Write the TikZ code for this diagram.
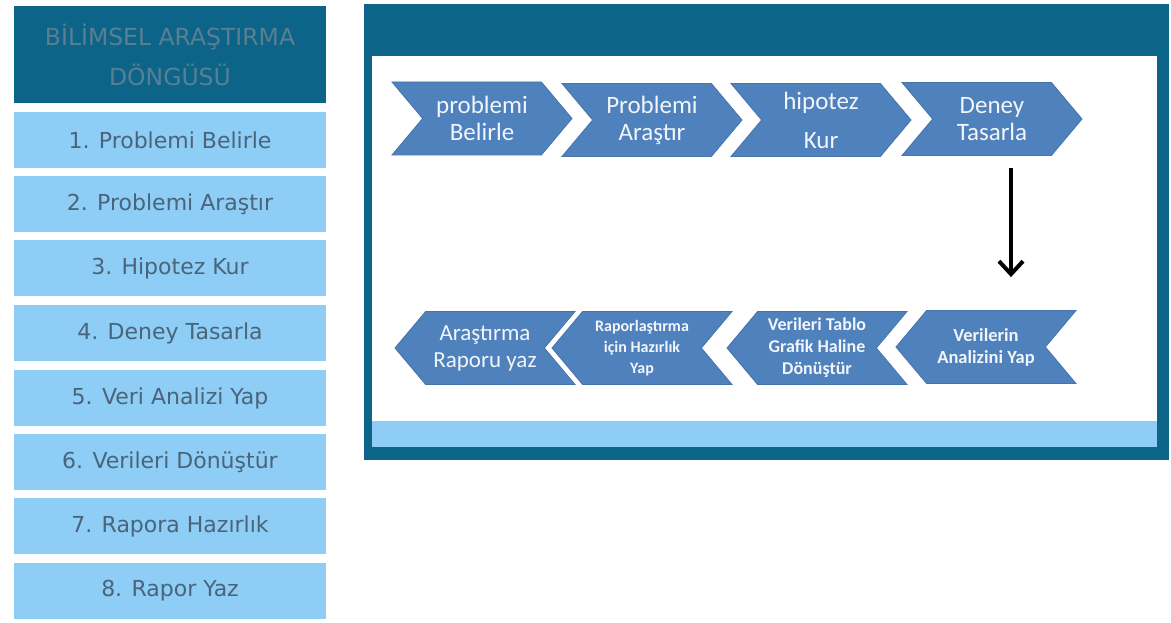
\documentclass[tikz,border=0pt]{standalone}
\usepackage{fontspec}
\setmainfont{DejaVu Sans}
\newfontfamily\calib{Carlito}
\usepackage{tikz}
\usetikzlibrary{shapes.symbols,arrows.meta,positioning}
\definecolor{darkteal}{HTML}{0D6489}
\definecolor{titlegray}{HTML}{5A7E92}
\definecolor{lightblue}{HTML}{8DCDF6}
\definecolor{boxtext}{HTML}{4A6479}
\definecolor{chevblue}{HTML}{4F81BD}
\definecolor{chevedge}{HTML}{4573AB}
\definecolor{chevtext}{HTML}{F2F5FA}

\begin{document}
\begin{tikzpicture}[
    x=1pt, y=-1pt,
    >={Straight Barb[length=13pt,width=24pt]},
    title/.style={rectangle, fill=darkteal, minimum width=312pt, minimum height=97pt,
      inner sep=0pt, text=titlegray, align=center, font=\fontsize{23.5}{40}\selectfont},
    stepbox/.style={rectangle, fill=lightblue, minimum width=312pt, minimum height=56pt,
      inner sep=0pt, text=boxtext, font=\fontsize{22}{26}\selectfont},
    chev/.style={signal, fill=chevblue, draw=chevedge, line width=0.8pt,
      minimum width=180pt, minimum height=73pt, inner sep=1pt, signal pointer angle=100,
      text=chevtext, align=center},
    fwd/.style={chev, signal to=east, signal from=west},
    bwd/.style={chev, signal to=west, signal from=east}
]
  \useasboundingbox (0,0) rectangle (1171,623);

  % left column
  \node[title] (head) at (170,54.5) {BİLİMSEL ARAŞTIRMA\\DÖNGÜSÜ};
  \node[stepbox] (s1) at (170,140) {1. Problemi Belirle};
  \node[stepbox] (s2) at (170,204) {2. Problemi Araştır};
  \node[stepbox] (s3) at (170,268) {3. Hipotez Kur};
  \node[stepbox] (s4) at (170,333) {4. Deney Tasarla};
  \node[stepbox] (s5) at (170,398) {5. Veri Analizi Yap};
  \node[stepbox] (s6) at (170,462) {6. Verileri Dönüştür};
  \node[stepbox] (s7) at (170,526) {7. Rapora Hazırlık};
  \node[stepbox] (s8) at (170,591) {8. Rapor Yaz};

  % panel
  \fill[darkteal] (364,4) rectangle (1169,460);
  \fill[white] (372,56) rectangle (1157,421);
  \fill[lightblue] (372,421) rectangle (1157,447);

  % top row
  \node[fwd, font=\calib\fontsize{25}{27}\selectfont] (c1) at (482,118.5) {problemi\\Belirle};
  \node[fwd, font=\calib\fontsize{25}{27}\selectfont] (c2) at (652,120) {Problemi\\Araştır};
  \node[fwd, font=\calib\fontsize{25}{27}\selectfont] (c3) at (821,120) {hipotez\\[12pt]Kur};
  \node[fwd, font=\calib\fontsize{25}{27}\selectfont] (c4) at (992,119) {Deney\\Tasarla};

  % bottom row
  \node[bwd, font=\calib\fontsize{23}{27}\selectfont] (r1) at (485,348) {Araştırma\\Raporu yaz};
  \node[bwd, font=\calib\bfseries\fontsize{16}{21}\selectfont] (r2) at (642,348) {Raporlaştırma\\için Hazırlık\\Yap};
  \node[bwd, font=\calib\bfseries\fontsize{18}{22}\selectfont] (r3) at (817,348) {Verileri Tablo\\Grafik Haline\\Dönüştür};
  \node[bwd, font=\calib\bfseries\fontsize{18.5}{22}\selectfont] (r4) at (986,347) {Verilerin\\Analizini Yap};

  % edge
  \draw[->, line width=4pt] ([shift={(19,12)}]c4.south) -- ([shift={(25,-33)}]r4.north);
\end{tikzpicture}
\end{document}
